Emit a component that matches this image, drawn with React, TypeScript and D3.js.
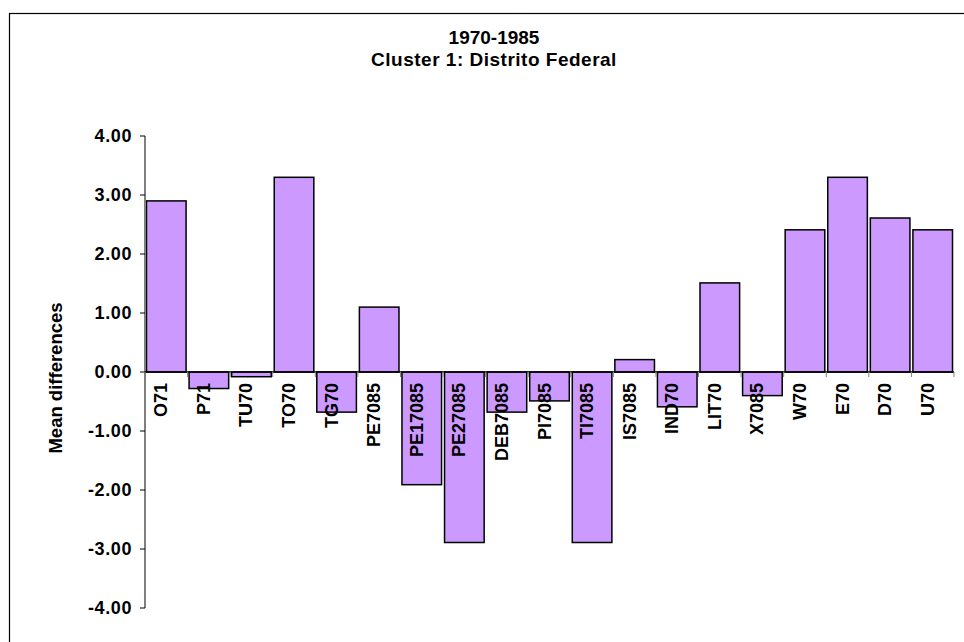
import * as React from 'react';
import { useRef, useEffect } from 'react';
import * as d3 from 'd3';

const categories = [
  'O71', 'P71', 'TU70', 'TO70', 'TG70', 'PE7085', 'PE17085', 'PE27085', 'DEB7085', 'PI7085',
  'TI7085', 'IS7085', 'IND70', 'LIT70', 'X7085', 'W70', 'E70', 'D70', 'U70',
];
const values = [
  2.9, -0.28, -0.08, 3.3, -0.68, 1.1, -1.91, -2.89, -0.68, -0.49,
  -2.89, 0.21, -0.59, 1.51, -0.4, 2.41, 3.3, 2.61, 2.41,
];
const yTicks = [4, 3, 2, 1, 0, -1, -2, -3, -4];
const titleLines = ['1970-1985', 'Cluster 1: Distrito Federal'];
const yTitle = 'Mean differences';

const W = 964;
const H = 642;
const FONT = "Arial, 'Liberation Sans', sans-serif";

export default function App() {
  const svgRef = useRef<SVGSVGElement | null>(null);

  useEffect(() => {
    if (!svgRef.current) return;
    const svg = d3.select(svgRef.current);
    svg.selectAll('*').remove();

    const left = 145;
    const right = 954;

    const x = d3.scaleBand<string>()
      .domain(categories)
      .range([left, right])
      .paddingInner(0.07)
      .paddingOuter(0.035);
    const y = d3.scaleLinear().domain([-4, 4]).range([608, 136]);

    // outer frame (only top and left visible)
    svg.append('rect')
      .attr('x', 9.5).attr('y', 13.5)
      .attr('width', 1200).attr('height', 1200)
      .attr('fill', 'none').attr('stroke', '#000').attr('stroke-width', 1.2);

    // title
    titleLines.forEach((t, i) => {
      svg.append('text')
        .attr('x', 494).attr('y', 44 + i * 22)
        .attr('text-anchor', 'middle')
        .attr('font-family', FONT).attr('font-weight', 'bold')
        .attr('font-size', 19).attr('letter-spacing', i === 1 ? 0.5 : 0)
        .text(t);
    });

    // bars
    svg.append('g').selectAll('rect')
      .data(values)
      .join('rect')
      .attr('x', (_, i) => x(categories[i])!)
      .attr('width', x.bandwidth())
      .attr('y', d => y(Math.max(0, d)))
      .attr('height', d => Math.abs(y(d) - y(0)))
      .attr('fill', '#CC99FF')
      .attr('stroke', '#000')
      .attr('stroke-width', 1.5);

    // y axis
    const yAxis = svg.append('g');
    yAxis.append('line')
      .attr('x1', left).attr('x2', left)
      .attr('y1', y(4)).attr('y2', y(-4))
      .attr('stroke', '#808080').attr('stroke-width', 2);
    yTicks.forEach(t => {
      yAxis.append('line')
        .attr('x1', left - 5).attr('x2', left)
        .attr('y1', y(t)).attr('y2', y(t))
        .attr('stroke', '#000').attr('stroke-width', 1);
      yAxis.append('text')
        .attr('x', 132).attr('y', y(t))
        .attr('dy', '0.36em')
        .attr('text-anchor', 'end')
        .attr('font-family', FONT).attr('font-weight', 'bold')
        .attr('font-size', 18).attr('letter-spacing', 0.6)
        .text(t.toFixed(2));
    });

    // x axis at zero
    const step = x.step();
    svg.append('line')
      .attr('x1', left).attr('x2', right)
      .attr('y1', y(0)).attr('y2', y(0))
      .attr('stroke', '#000').attr('stroke-width', 1.5);
    d3.range(categories.length + 1).forEach(i => {
      const xx = left + i * step;
      svg.append('line')
        .attr('x1', xx).attr('x2', xx)
        .attr('y1', y(0)).attr('y2', y(0) + 5)
        .attr('stroke', '#808080').attr('stroke-width', 1);
    });

    // category labels
    categories.forEach(c => {
      const cx = x(c)! + x.bandwidth() / 2 + 1;
      svg.append('text')
        .attr('transform', `translate(${cx}, ${y(0) + 11}) rotate(-90)`)
        .attr('text-anchor', 'end')
        .attr('font-family', FONT).attr('font-weight', 'bold')
        .attr('font-size', 18)
        .text(c);
    });

    // y title
    svg.append('text')
      .attr('transform', `translate(62, 378) rotate(-90)`)
      .attr('text-anchor', 'middle')
      .attr('font-family', FONT).attr('font-weight', 'bold')
      .attr('font-size', 18.5)
      .text(yTitle);
  }, []);

  return (
    <svg
      ref={svgRef}
      width={W}
      height={H}
      style={{ position: 'absolute', left: 0, top: 0, display: 'block', background: '#fff' }}
    />
  );
}
